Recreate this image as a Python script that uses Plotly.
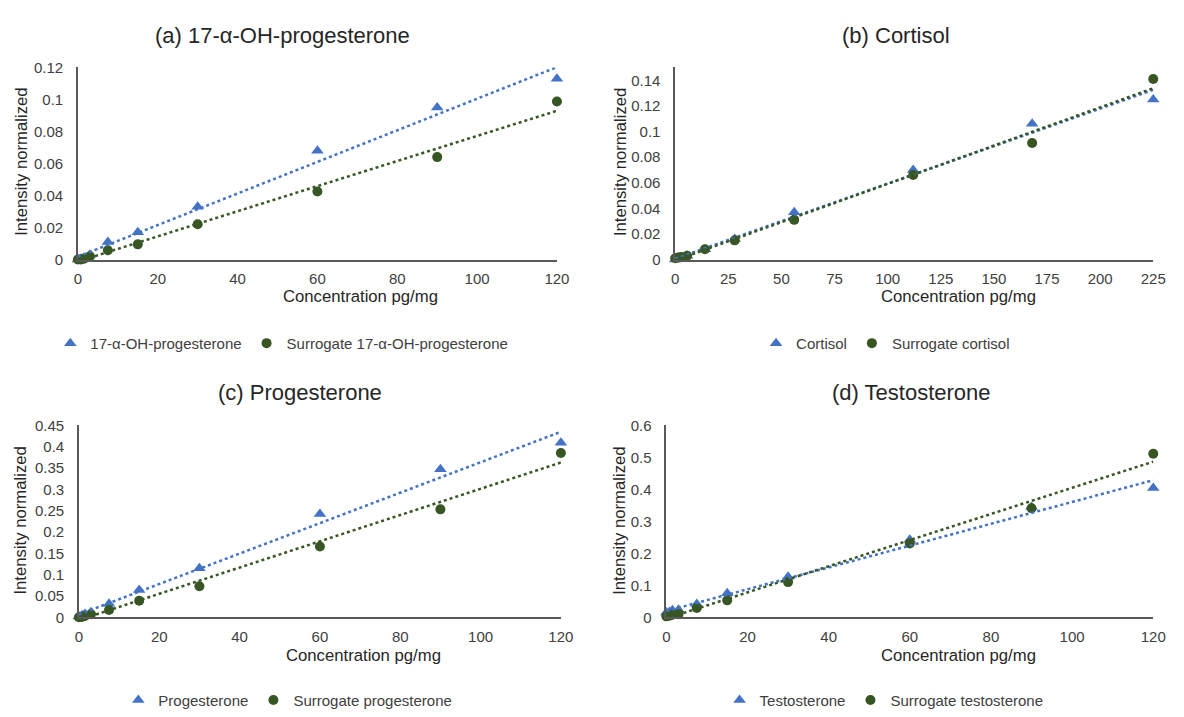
import numpy as np
import plotly.graph_objects as go

# ---------------- data ----------------
conc_120 = [0, 0.75, 1.5, 3, 7.5, 15, 30, 60, 90, 120]
conc_225 = [0, 1.4, 2.8, 5.6, 14, 28, 56, 112, 168, 225]

ohp = [0.0, 0.0005, 0.001, 0.003, 0.011, 0.017, 0.033, 0.068, 0.095, 0.113]
ohp_sur = [0.0, 0.0, 0.0005, 0.002, 0.0058, 0.0095, 0.022, 0.0425, 0.064, 0.0988]

cortisol = [0.0, 0.0005, 0.001, 0.003, 0.008, 0.016, 0.037, 0.070, 0.106, 0.125]
cortisol_sur = [0.001, 0.0015, 0.002, 0.003, 0.008, 0.015, 0.031, 0.066, 0.091, 0.141]

prog = [0.002, 0.005, 0.008, 0.012, 0.032, 0.064, 0.115, 0.242, 0.347, 0.409]
prog_sur = [0.0, 0.001, 0.003, 0.007, 0.017, 0.039, 0.073, 0.166, 0.253, 0.385]

testo = [0.015, 0.017, 0.022, 0.024, 0.042, 0.075, 0.127, 0.242, 0.345, 0.404]
testo_sur = [0.003, 0.005, 0.008, 0.010, 0.029, 0.053, 0.110, 0.231, 0.341, 0.511]

panels = [
    dict(title="(a) 17-α-OH-progesterone", x=conc_120, a=ohp, b=ohp_sur,
         na="17-α-OH-progesterone", nb="Surrogate 17-α-OH-progesterone",
         xr=[0, 120], xd=20, yr=[0, 0.12], yd=0.02),
    dict(title="(b) Cortisol", x=conc_225, a=cortisol, b=cortisol_sur,
         na="Cortisol", nb="Surrogate cortisol",
         xr=[0, 225], xd=25, yr=[0, 0.15], yd=0.02),
    dict(title="(c) Progesterone", x=conc_120, a=prog, b=prog_sur,
         na="Progesterone", nb="Surrogate progesterone",
         xr=[0, 120], xd=20, yr=[0, 0.45], yd=0.05),
    dict(title="(d) Testosterone", x=conc_120, a=testo, b=testo_sur,
         na="Testosterone", nb="Surrogate testosterone",
         xr=[0, 120], xd=20, yr=[0, 0.6], yd=0.1),
]

# ---------------- layout geometry (pixels) ----------------
W, H = 1184, 717
BLUE = "#4472C4"
GREEN = "#375623"
AXC = "#595959"
TXT = "#404040"
FONT = "Arial, Liberation Sans, sans-serif"

geo = [
    dict(x0=75, x1=561, ytop=60, ybot=257, tx=283, ty=27, xtx=362, xty=295, ytx=17, yty=157, lx=47, ly=343),
    dict(x0=681, x1=1166, ytop=60, ybot=257, tx=905, ty=27, xtx=968, xty=295, ytx=625, yty=157, lx=763, ly=343),
    dict(x0=76, x1=565, ytop=427, ybot=624, tx=300, ty=393, xtx=365, xty=663, ytx=17, yty=525, lx=116, ly=709),
    dict(x0=672, x1=1166, ytop=427, ybot=624, tx=921, ty=393, xtx=968, xty=663, ytx=625, yty=525, lx=726, ly=709),
]

fig = go.Figure()
annotations = []
layout_extra = {}

for i, (p, g) in enumerate(zip(panels, geo)):
    k = "" if i == 0 else str(i + 1)
    xa, ya = "x" + k, "y" + k
    leg = "legend" + k
    x = np.array(p["x"], dtype=float)
    for vals, name, sym, col in [(p["a"], p["na"], "triangle-up", BLUE),
                                 (p["b"], p["nb"], "circle", GREEN)]:
        fig.add_trace(go.Scatter(
            x=x, y=vals, mode="markers", name=name,
            marker=dict(symbol=sym, size=10 if sym == "circle" else 11, color=col),
            xaxis=xa, yaxis=ya, legend=leg, showlegend=True, cliponaxis=False))
    for vals, col in [(p["a"], BLUE), (p["b"], GREEN)]:
        m, c = np.polyfit(x, np.array(vals, dtype=float), 1)
        xs = np.array([x.min(), x.max()])
        fig.add_trace(go.Scatter(
            x=xs, y=m * xs + c, mode="lines",
            line=dict(color=col, width=2.5, dash="dot"),
            xaxis=xa, yaxis=ya, showlegend=False, hoverinfo="skip"))

    layout_extra["xaxis" + k] = dict(
        domain=[g["x0"] / W, g["x1"] / W], anchor=ya, range=p["xr"],
        dtick=p["xd"], tick0=0, showgrid=False, zeroline=False,
        showline=True, linecolor=AXC, linewidth=1.5, ticks="", ticklabelstandoff=5,
        tickfont=dict(size=15, color=TXT, family=FONT))
    layout_extra["yaxis" + k] = dict(
        domain=[1 - g["ybot"] / H, 1 - g["ytop"] / H], anchor=xa, range=p["yr"],
        dtick=p["yd"], tick0=0, showgrid=False, zeroline=False,
        showline=True, linecolor=AXC, linewidth=1.5, ticks="", ticklabelstandoff=10,
        tickfont=dict(size=15, color=TXT, family=FONT))
    layout_extra[leg] = dict(
        orientation="h", x=g["lx"] / W, y=1 - g["ly"] / H, xanchor="left", yanchor="middle",
        font=dict(size=15, color=TXT, family=FONT), bgcolor="rgba(0,0,0,0)",
        itemwidth=30, tracegroupgap=0)

    annotations.append(dict(text=p["title"], x=g["tx"] / W, y=1 - g["ty"] / H,
                            xref="paper", yref="paper", showarrow=False,
                            xanchor="center", yanchor="middle",
                            font=dict(size=22, color="#262626", family=FONT)))
    annotations.append(dict(text="Concentration pg/mg", x=g["xtx"] / W, y=1 - g["xty"] / H,
                            xref="paper", yref="paper", showarrow=False,
                            xanchor="center", yanchor="middle",
                            font=dict(size=16.7, color="#262626", family=FONT)))
    annotations.append(dict(text="Intensity normalized", x=g["ytx"] / W, y=1 - g["yty"] / H,
                            xref="paper", yref="paper", showarrow=False, textangle=-90,
                            xanchor="center", yanchor="middle",
                            font=dict(size=16.7, color="#262626", family=FONT)))

fig.update_layout(
    width=W, height=H, margin=dict(l=0, r=0, t=0, b=0),
    paper_bgcolor="white", plot_bgcolor="white",
    annotations=annotations, font=dict(family=FONT),
    **layout_extra)

fig.write_html("out.html", config={"displayModeBar": False},
               post_script="document.body.style.margin='0';document.body.style.overflow='hidden';")
